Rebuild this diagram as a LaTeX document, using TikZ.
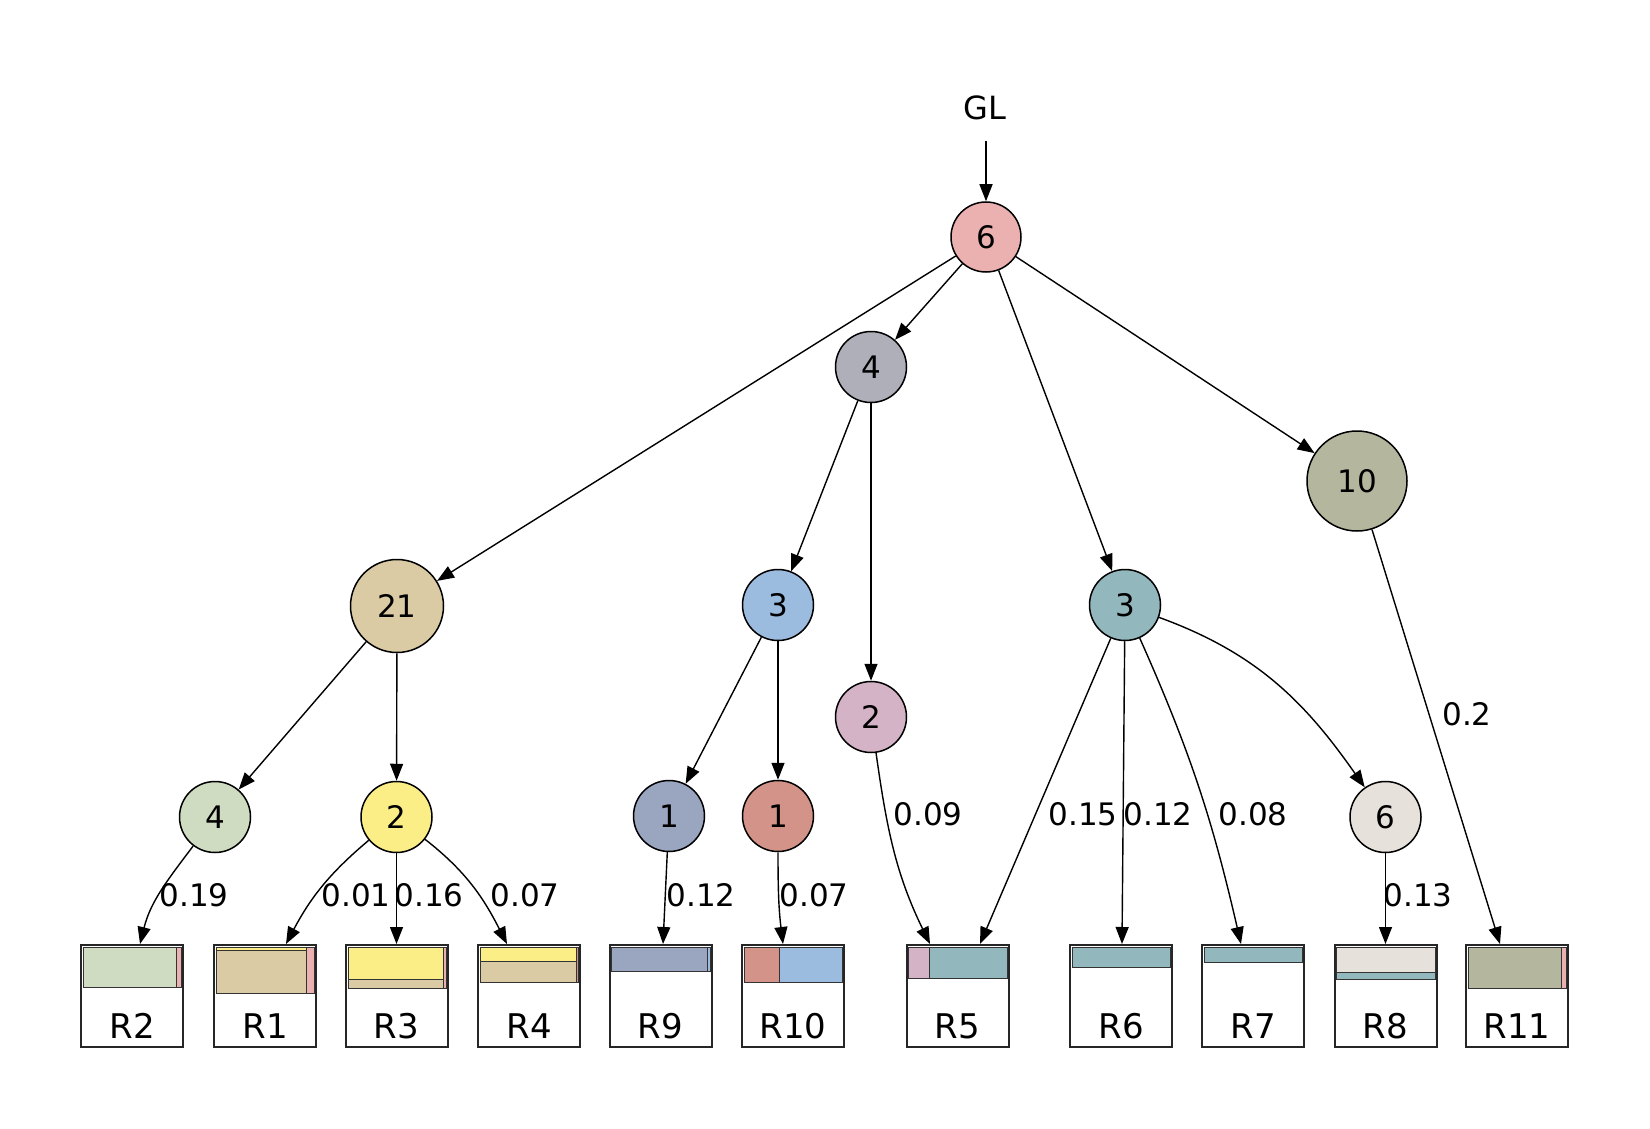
\documentclass[tikz,border=0pt]{standalone}
\usepackage{fontspec}
\setmainfont{DejaVu Sans}
\usetikzlibrary{arrows.meta}
\definecolor{cRoot}{HTML}{EBB0B0}
\definecolor{cGray}{HTML}{AEAFB9}
\definecolor{cTan}{HTML}{DBCBA5}
\definecolor{cBlue}{HTML}{9BBBDF}
\definecolor{cPink}{HTML}{D4B3C6}
\definecolor{cTeal}{HTML}{92B7BD}
\definecolor{cOlive}{HTML}{B4B69E}
\definecolor{cGreen}{HTML}{CFDCC1}
\definecolor{cYellow}{HTML}{FBEE87}
\definecolor{cSlate}{HTML}{9AA6BF}
\definecolor{cRed}{HTML}{D49389}
\definecolor{cLight}{HTML}{E6E1DA}
\begin{document}
\begin{tikzpicture}[x=0.5pt,y=-0.5pt,
  circ/.style={circle,draw=black,line width=0.75pt,inner sep=0pt,minimum size=35.5pt,font=\fontsize{15.5}{18}\selectfont},
  edge/.style={line width=0.7pt,-{Triangle[length=8.5pt,width=6.5pt]}},
  elab/.style={font=\fontsize{15.5}{18}\selectfont,inner sep=0pt},
  rbox/.style={draw=black!85,line width=1pt,fill=white,minimum width=51pt,minimum height=51pt,inner sep=0pt},
  bar/.style={draw=black!80,line width=0.5pt},
  blab/.style={font=\fontsize{17}{20}\selectfont,inner sep=0pt}]
\useasboundingbox (0,0) rectangle (1650,1129);

% title
\node[elab,font=\fontsize{16}{19}\selectfont] (GL) at (985,108) {GL};
\coordinate (GLs) at (986,141);

% circles
\node[circ,fill=cRoot,minimum size=35pt] (root) at (986,237) {6};
\node[circ,fill=cGray] (n4g) at (871,367) {4};
\node[circ,fill=cTan,minimum size=46.5pt] (n21) at (397,606) {21};
\node[circ,fill=cBlue] (n3b) at (778,605) {3};
\node[circ,fill=cPink] (n2p) at (871,717) {2};
\node[circ,fill=cTeal] (n3t) at (1125,605) {3};
\node[circ,fill=cOlive,minimum size=50pt] (n10) at (1357,481) {10};
\node[circ,fill=cGreen] (n4gr) at (215,817) {4};
\node[circ,fill=cYellow] (n2y) at (396.5,817) {2};
\node[circ,fill=cSlate] (n1s) at (669,816) {1};
\node[circ,fill=cRed] (n1r) at (778,816) {1};
\node[circ,fill=cLight] (n6l) at (1385.5,817) {6};

% boxes
\foreach \n/\cx in {R2/132,R1/265,R3/396.5,R4/529,R9/660.5,R10/793,R5/957.5,R6/1121,R7/1253,R8/1385.5,R11/1517}{
  \node[rbox] (\n) at (\cx,996) {};
  \node[blab] (\n l) at (\cx,1026) {\n};
}

% bars
\draw[bar,fill=cGreen] (83,947) rectangle (176,987);
\draw[bar,fill=cRoot] (176,947) rectangle (181,987);

\draw[bar,fill=cYellow] (216,947) rectangle (306,950);
\draw[bar,fill=cTan] (216,950) rectangle (306,993);
\draw[bar,fill=cRoot] (306,947) rectangle (314,993);

\draw[bar,fill=cYellow] (348,947) rectangle (443,979);
\draw[bar,fill=cTan] (348,979) rectangle (443,988);
\draw[bar,fill=cRoot] (443,947) rectangle (446,988);

\draw[bar,fill=cYellow] (480,947) rectangle (576,961);
\draw[bar,fill=cTan] (480,961) rectangle (576,982);
\draw[bar,fill=cRed] (576,947) rectangle (578,982);

\draw[bar,fill=cSlate] (611,947) rectangle (707,971);
\draw[bar,fill=cBlue] (707,947) rectangle (710,971);

\draw[bar,fill=cRed] (744,947) rectangle (779,982);
\draw[bar,fill=cBlue] (779,947) rectangle (842,982);

\draw[bar,fill=cPink] (908,947) rectangle (929,978);
\draw[bar,fill=cTeal] (929,947) rectangle (1007,978);

\draw[bar,fill=cTeal] (1072,947) rectangle (1170,967);

\draw[bar,fill=cTeal] (1204,947) rectangle (1302,962);

\draw[bar,fill=cLight] (1336,947) rectangle (1435,972);
\draw[bar,fill=cTeal] (1336,972) rectangle (1435,979);

\draw[bar,fill=cOlive] (1468,947) rectangle (1561,988);
\draw[bar,fill=cRoot] (1561,947) rectangle (1566,988);

% edges
\draw[edge] (GLs) -- (root);
\draw[edge] (root) -- (n4g);
\draw[edge] (root) -- (n21);
\draw[edge] (root) -- (n3t);
\draw[edge] (root) -- (n10);
\draw[edge] (n4g) -- (n3b);
\draw[edge] (n4g) -- (n2p);
\draw[edge] (n21) -- (n4gr);
\draw[edge] (n21) -- (n2y);
\draw[edge] (n3b) -- (n1s);
\draw[edge] (n3b) -- (n1r);

\draw[edge] (n4gr) to[out=-127,in=76] (R2.north -| 140,0);
\draw[edge] (n2y) to[out=-140,in=62] (R1.north -| 286,0);
\draw[edge] (n2y) -- (R3.north -| 396.5,0);
\draw[edge] (n2y) to[out=-38,in=117] (R4.north -| 507,0);
\draw[edge] (n1s) -- (R9.north -| 663,0);
\draw[edge] (n1r) to[out=-90,in=97] (R10.north -| 783,0);
\draw[edge] (n2p) to[out=-82,in=116] (R5.north -| 930,0);
\draw[edge] (n3t) -- (R5.north -| 980,0);
\draw[edge] (n3t) -- (R6.north -| 1122,0);
\draw[edge] (n3t) to[out=-66,in=103] (R7.north -| 1241,0);
\draw[edge] (n3t) to[out=-20,in=125] (n6l);
\draw[edge] (n6l) -- (R8.north -| 1385.5,0);
\draw[edge] (n10) -- (R11.north -| 1500,0);

% edge labels
\node[elab] (l1) at (194,895) {0.19};
\node[elab] (l2) at (356,895) {0.01};
\node[elab] (l3) at (429,895) {0.16};
\node[elab] (l4) at (525,895) {0.07};
\node[elab] (l5) at (701,895) {0.12};
\node[elab] (l6) at (814,895) {0.07};
\node[elab] (l7) at (928,814) {0.09};
\node[elab] (l8) at (1083,814) {0.15};
\node[elab] (l9) at (1158,814) {0.12};
\node[elab] (l10) at (1253,814) {0.08};
\node[elab] (l11) at (1418,895) {0.13};
\node[elab] (l12) at (1467,714) {0.2};
\end{tikzpicture}
\end{document}
